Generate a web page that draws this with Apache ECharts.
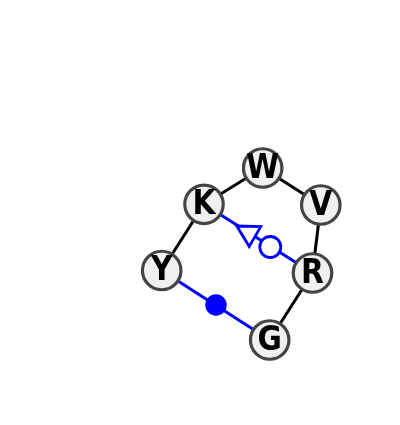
<!DOCTYPE html>
<html><head><meta charset="utf-8">
<style>html,body{margin:0;padding:0;background:#fff}#c{width:400px;height:425px}</style>
<script src="https://cdn.jsdelivr.net/npm/echarts@6/dist/echarts.min.js"></script>
</head><body><div id="c"></div>
<script>
const residues = ['W','V','R','G','Y','K'];
const residueX = [262.7,320.8,312.5,269.7,161.7,204];
const residueY = [168,205,273,340,270.5,204.3];
const blackEdges = [['K','W'],['W','V'],['V','R'],['R','G'],['Y','K']];
const blueEdges = [['Y','G'],['K','R']];
const filledMarker = [216,305];
const openMarker = [270.3,247];
const triangleMarker = [245.9,231.3];

const pos = n => { const i = residues.indexOf(n); return [residueX[i], residueY[i]]; };
const edgeSeries = (edges, color) => edges.map(e => ({
  type:'line', data:[pos(e[0]),pos(e[1])], symbol:'none', silent:true, z:1,
  lineStyle:{color, width:3}
}));
const chart = echarts.init(document.getElementById('c'), null, {renderer:'canvas'});
chart.setOption({
  animation:false,
  backgroundColor:'#ffffff',
  grid:{left:0,right:0,top:0,bottom:0},
  xAxis:{type:'value',min:0,max:400,show:false},
  yAxis:{type:'value',min:0,max:425,inverse:true,show:false},
  series:[
    ...edgeSeries(blackEdges,'#000000'),
    ...edgeSeries(blueEdges,'#0000ff'),
    {type:'scatter',z:3,data:[filledMarker],symbol:'circle',symbolSize:21.5,
     itemStyle:{color:'#0000ff',opacity:1}},
    {type:'scatter',z:3,data:[openMarker],symbol:'circle',symbolSize:21,
     itemStyle:{color:'#ffffff',borderColor:'#0000ff',borderWidth:2.8,opacity:1}},
    {type:'scatter',z:3,data:[triangleMarker],symbol:'triangle',symbolSize:[23,21],symbolRotate:60,
     itemStyle:{color:'#ffffff',borderColor:'#0000ff',borderWidth:2.8,opacity:1}},
    {type:'scatter',z:4,symbol:'circle',symbolSize:38.5,
     data:residues.map((r,i)=>({name:r,value:[residueX[i],residueY[i]]})),
     itemStyle:{color:'#f0f0f0',borderColor:'#444444',borderWidth:3.2,opacity:1},
     label:{show:true,position:'inside',offset:[0,1],formatter:'{b}',color:'#000000',
       fontFamily:'DejaVu Sans Condensed',fontWeight:'bold',fontSize:33}}
  ]
});
</script></body></html>
